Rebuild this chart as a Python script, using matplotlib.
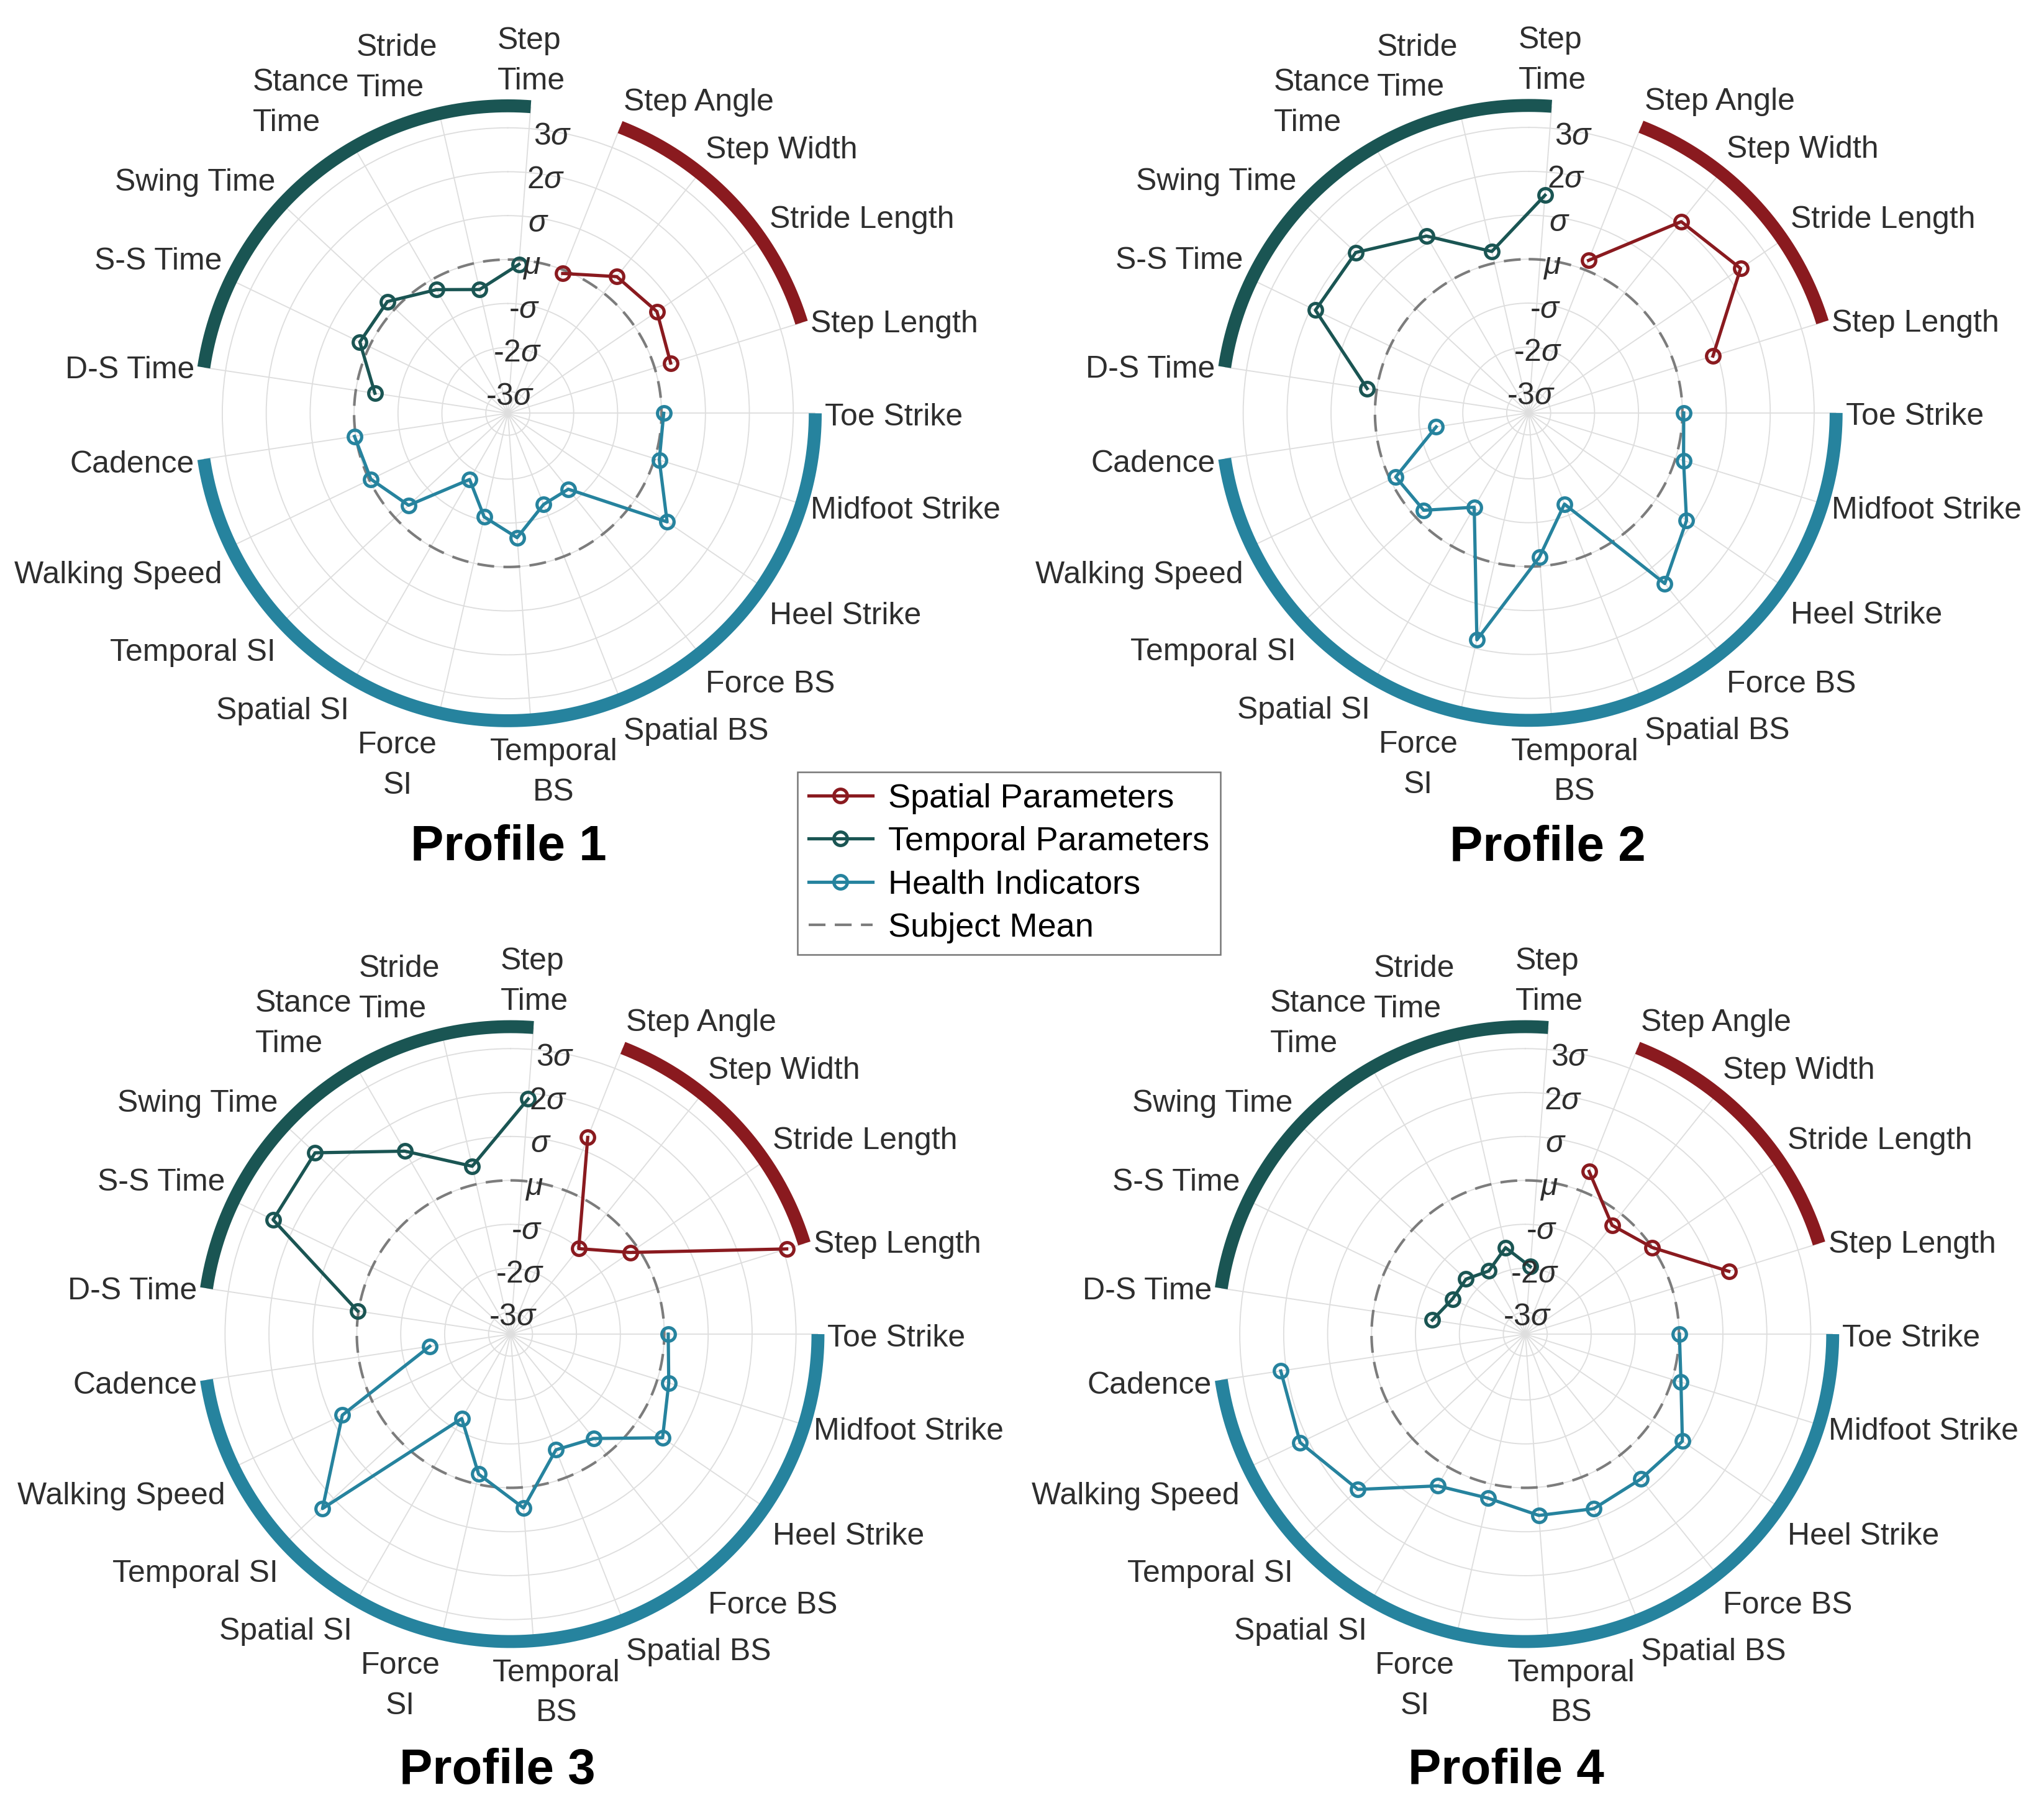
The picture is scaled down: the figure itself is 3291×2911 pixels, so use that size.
import numpy as np
import matplotlib
matplotlib.use("Agg")
import matplotlib.pyplot as plt

plt.rcParams['font.family'] = ['Liberation Sans', 'DejaVu Sans']
plt.rcParams['mathtext.fontset'] = 'custom'
plt.rcParams['mathtext.rm'] = 'Liberation Sans'
plt.rcParams['mathtext.it'] = 'Liberation Sans:italic'

# ---------------- data ----------------
# clockwise order of the angular categories (starting near 12 o'clock)
category_order = ['Step Time', 'Step Angle', 'Step Width', 'Stride Length', 'Step Length',
                  'Toe Strike', 'Midfoot Strike', 'Heel Strike', 'Force BS', 'Spatial BS',
                  'Temporal BS', 'Force SI', 'Spatial SI', 'Temporal SI', 'Walking Speed',
                  'Cadence', 'D-S Time', 'S-S Time', 'Swing Time', 'Stance Time', 'Stride Time']
category_text = ['Step\nTime', 'Step Angle', 'Step Width', 'Stride Length', 'Step Length',
                 'Toe Strike', 'Midfoot Strike', 'Heel Strike', 'Force BS', 'Spatial BS',
                 'Temporal\nBS', 'Force\nSI', 'Spatial SI', 'Temporal SI', 'Walking Speed',
                 'Cadence', 'D-S Time', 'S-S Time', 'Swing Time', 'Stance\nTime', 'Stride\nTime']

temporal_params = ['Step Time', 'Stride Time', 'Stance Time', 'Swing Time', 'S-S Time', 'D-S Time']
spatial_params = ['Step Angle', 'Step Width', 'Stride Length', 'Step Length']
health_params = ['Toe Strike', 'Midfoot Strike', 'Heel Strike', 'Force BS', 'Spatial BS',
                 'Temporal BS', 'Force SI', 'Spatial SI', 'Temporal SI', 'Walking Speed', 'Cadence']

profile_names = ['Profile 1', 'Profile 2', 'Profile 3', 'Profile 4']

temporal_p1 = [-0.10, -0.61, -0.25, 0.24, 0.24, -0.44]
spatial_p1 = [-0.08, 0.48, 0.61, 0.38]
health_p1 = [0.05, 0.11, 0.89, -1.29, -1.27, -0.66, -1.08, -1.76, -0.42, -0.04, 0.03]

temporal_p2 = [1.47, 0.27, 1.15, 1.87, 1.89, 0.22]
spatial_p2 = [0.23, 2.07, 2.34, 0.89]
health_p2 = [0.03, 0.19, 0.85, 1.47, -1.27, -0.21, 1.80, -1.02, -0.24, -0.14, -1.37]

temporal_p3 = [1.87, 0.42, 1.31, 2.57, 2.50, 0.02]
spatial_p3 = [1.31, -1.01, -0.20, 3.08]
health_p3 = [0.09, 0.27, 0.69, -0.46, -0.67, 0.47, -0.23, -1.28, 2.34, 0.75, -1.64]

temporal_p4 = [-1.96, -1.48, -1.84, -1.66, -1.66, -1.36]
spatial_p4 = [0.48, -0.33, 0.00, 1.35]
health_p4 = [0.01, 0.21, 0.83, 0.72, 0.77, 0.64, 0.33, 0.49, 1.70, 2.19, 2.13]

radial_ticks = [-3, -2, -1, 0, 1, 2, 3]
radial_tick_labels = ['-3$\\sigma$', '-2$\\sigma$', '-$\\sigma$', '$\\mu$', '$\\sigma$',
                      '2$\\sigma$', '3$\\sigma$']

series_names = ['Spatial Parameters', 'Temporal Parameters', 'Health Indicators', 'Subject Mean']

# ---------------- style / layout ----------------
C_SPATIAL = '#8A1A1F'
C_TEMPORAL = '#1A5553'
C_HEALTH = '#26839E'
C_MEAN = '#7c7c7c'
C_GRID = '#dedede'
C_TEXT = '#2e2e2e'

W, H, DPI = 3291, 2911, 300
R_PX = 495.0
RMIN, RMAX = -3.5, 3.5
centers_px = [(817.6, 665.4), (2461.3, 664.8), (822.0, 2148.0), (2455.8, 2148.0)]
title_px = [(819, 1385), (2492, 1386), (801, 2872), (2425, 2872)]

N = len(category_order)
step = 2 * np.pi / N
ang = {c: (i + 0.25) * step for i, c in enumerate(category_order)}

FS = 12
PAD_X = 3.7
label_nudge = {'Temporal BS': (8.6, 0.0)}

fig = plt.figure(figsize=(W / DPI, H / DPI), dpi=DPI)
fig.patch.set_facecolor('white')

profiles = [(temporal_p1, spatial_p1, health_p1),
            (temporal_p2, spatial_p2, health_p2),
            (temporal_p3, spatial_p3, health_p3),
            (temporal_p4, spatial_p4, health_p4)]


def arc(ax, names, color, wrap=False):
    a = [ang[n] for n in names]
    a0, a1 = min(a), max(a)
    if wrap:
        a0, a1 = ang[names[-1]], ang[names[0]] + 2 * np.pi
    t = np.linspace(a0, a1, 300)
    ax.plot(t, np.full_like(t, RMAX), color=color, lw=5.0, solid_capstyle='butt',
            clip_on=False, zorder=2)


handles = []
for k, (tv, sv, hv) in enumerate(profiles):
    cx, cy = centers_px[k]
    rect = [(cx - R_PX) / W, (H - cy - R_PX) / H, 2 * R_PX / W, 2 * R_PX / H]
    ax = fig.add_axes(rect, projection='polar')
    ax.set_theta_zero_location('N')
    ax.set_theta_direction(-1)
    ax.set_ylim(RMIN, RMAX)
    ax.set_xticks([ang[c] for c in category_order])
    ax.set_xticklabels([])
    ax.set_yticks(radial_ticks)
    ax.set_yticklabels([])
    ax.tick_params(length=0)
    ax.grid(True, color=C_GRID, lw=0.45)
    ax.spines['polar'].set_visible(False)
    ax.set_facecolor('white')

    # subject mean
    tt = np.linspace(0, 2 * np.pi, 500)
    lm, = ax.plot(tt, np.zeros_like(tt), color=C_MEAN, lw=1.0, ls=(0, (6.5, 3.6)), zorder=2)

    # group arcs
    arc(ax, temporal_params, C_TEMPORAL, wrap=True)
    arc(ax, spatial_params, C_SPATIAL)
    arc(ax, health_params, C_HEALTH)

    mk = dict(marker='o', markerfacecolor='none', markersize=5.2, markeredgewidth=1.25,
              lw=1.25, zorder=4)
    ls_, = ax.plot([ang[n] for n in spatial_params], sv, color=C_SPATIAL, **mk)
    lt_, = ax.plot([ang[n] for n in temporal_params], tv, color=C_TEMPORAL, **mk)
    lh_, = ax.plot([ang[n] for n in health_params], hv, color=C_HEALTH, **mk)
    if k == 0:
        handles = [ls_, lt_, lh_, lm]

    # radial tick labels
    for rv, rl in zip(radial_ticks, radial_tick_labels):
        ax.annotate(rl, xy=(np.deg2rad(9.3), rv), xytext=(-0.5, -2.0), textcoords='offset points',
                    ha='center', va='center', fontsize=FS, color=C_TEXT, zorder=5,
                    annotation_clip=False)

    # category labels
    for c, txt in zip(category_order, category_text):
        th = ang[c]
        s, co = np.sin(th), np.cos(th)
        ha = 'center' if abs(s) < 0.1 else ('left' if s > 0 else 'right')
        dx = s * PAD_X
        if co > 0.35:
            dy = 5.0 * co - 0.6
            va, ma = 'bottom', 'left'
        elif co < -0.35:
            dy = -4.5 + 2.5 * co
            va, ma = 'top', 'center'
        else:
            dy = -7.1 + 3.5 * co
            va, ma = 'bottom', 'center'
        nx, ny = label_nudge.get(c, (0.0, 0.0))
        ax.annotate(txt, xy=(th, RMAX), xytext=(dx + nx, dy + ny), textcoords='offset points',
                    ha=ha, va=va, multialignment=ma, linespacing=1.52, fontsize=FS,
                    color=C_TEXT, annotation_clip=False)

    tx, ty = title_px[k]
    fig.text(tx / W, 1 - ty / H, profile_names[k], ha='center', va='baseline',
             fontsize=19.2, fontweight='bold', color='black')

leg = fig.legend(handles, series_names, loc='center',
                 bbox_to_anchor=((1281 + 1968) / 2 / W, 1 - (1242 + 1538) / 2 / H),
                 fontsize=13, frameon=True, fancybox=False, handlelength=1.9,
                 handletextpad=0.47, borderpad=0.33, labelspacing=0.36, borderaxespad=0)
leg.get_frame().set_edgecolor('#555555')
leg.get_frame().set_linewidth(0.6)
for t in leg.get_texts():
    t.set_color('black')

fig.savefig('out.png', dpi=DPI, facecolor='white')
